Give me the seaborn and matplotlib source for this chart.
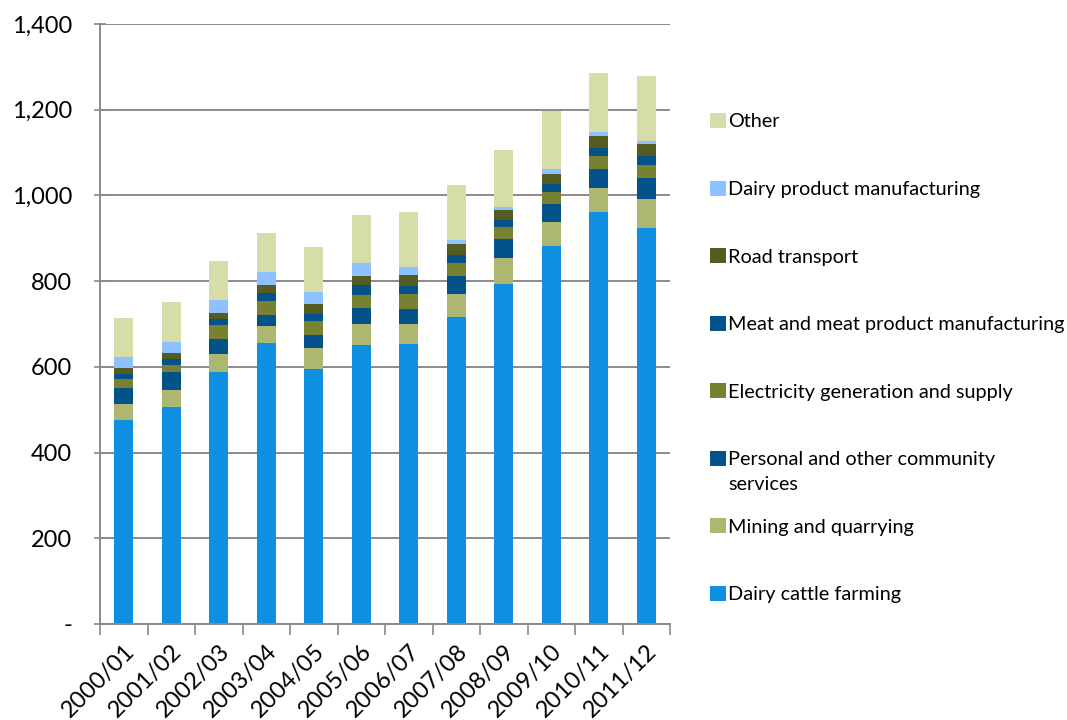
import matplotlib
matplotlib.use("Agg")
import matplotlib.pyplot as plt
import numpy as np
import pandas as pd
import seaborn as sns
from matplotlib.patches import Patch

# ---- data ----
years = ["2000/01", "2001/02", "2002/03", "2003/04", "2004/05", "2005/06",
         "2006/07", "2007/08", "2008/09", "2009/10", "2010/11", "2011/12"]
dairy_cattle = [476, 507, 588, 656, 595, 650, 653, 716, 793, 883, 961, 925]
mining = [37, 40, 41, 39, 49, 51, 48, 53, 61, 56, 57, 66]
personal = [38, 40, 37, 26, 31, 36, 35, 44, 44, 40, 44, 49]
electricity = [20, 18, 31, 33, 31, 31, 33, 30, 29, 29, 30, 30]
meat = [12, 14, 14, 19, 18, 22, 19, 19, 16, 19, 19, 21]
road = [14, 14, 15, 19, 22, 23, 27, 24, 22, 24, 27, 28]
dairy_product = [27, 26, 30, 29, 29, 30, 18, 9, 9, 11, 11, 9]
other = [91, 92, 91, 91, 105, 112, 129, 130, 133, 135, 137, 150]

series_names = ["Dairy cattle farming", "Mining and quarrying",
                "Personal and other community services",
                "Electricity generation and supply",
                "Meat and meat product manufacturing", "Road transport",
                "Dairy product manufacturing", "Other"]
series_values = [dairy_cattle, mining, personal, electricity, meat, road,
                 dairy_product, other]
colors = ["#0F8FDF", "#ADB771", "#03528A", "#778230", "#03528A", "#555C21",
          "#8DC1FF", "#D6DDA9"]
ytick_values = [0, 200, 400, 600, 800, 1000, 1200, 1400]
ytick_labels = ["-", "200", "400", "600", "800", "1,000", "1,200", "1,400"]

# ---- figure ----
sns.set_theme(style="white")
plt.rcParams["font.family"] = ["Lato", "DejaVu Sans"]

W, H = 1067, 720
fig = plt.figure(figsize=(W / 100, H / 100), dpi=100)
ax = fig.add_axes([100 / W, 96 / H, 570 / W, 600 / H])

df = pd.DataFrame({"year": years})
cum = np.zeros(len(years))
cums = []
for vals in series_values:
    cum = cum + np.array(vals, dtype=float)
    cums.append(cum.copy())

# draw from the tallest cumulative layer down so lower layers overlay
for c, col in reversed(list(zip(cums, colors))):
    d = df.copy()
    d["value"] = c
    sns.barplot(data=d, x="year", y="value", color=col, saturation=1,
                width=0.4, linewidth=0, ax=ax, order=years)

ax.set_ylim(0, 1400)
ax.set_xlim(-0.5, len(years) - 0.5)
ax.set_yticks(ytick_values)
ax.set_yticklabels(ytick_labels)
ax.set_xlabel("")
ax.set_ylabel("")

grid_col = "#8A8A8A"
ax.yaxis.grid(True, color=grid_col, linewidth=1.4)
ax.set_axisbelow(True)
for s in ["top", "right"]:
    ax.spines[s].set_visible(False)
for s in ["left", "bottom"]:
    ax.spines[s].set_visible(True)
    ax.spines[s].set_color(grid_col)
    ax.spines[s].set_linewidth(1.4)

ax.tick_params(axis="y", which="major", direction="inout", length=8,
               width=1.2, color=grid_col, left=True, pad=16,
               labelsize=17, labelcolor="#000000")
# category boundaries as minor ticks (Excel style)
ax.set_xticks(np.arange(-0.5, len(years)), minor=True)
ax.tick_params(axis="x", which="minor", direction="out", length=8,
               width=1.2, color=grid_col, bottom=True)
ax.tick_params(axis="x", which="major", length=0, pad=12, labelsize=17,
               labelcolor="#000000")
for lab in ax.get_xticklabels():
    lab.set_rotation(45)
    lab.set_ha("right")
    lab.set_rotation_mode("anchor")

# legend (reverse order, Excel style); long label wraps onto a second line
leg_fs = 14.3
legend_labels = [n.replace(" services", "") for n in series_names]
handles = [Patch(facecolor=col, edgecolor="none") for col in colors]
leg = fig.legend(handles[::-1], legend_labels[::-1], loc="upper left",
                 bbox_to_anchor=(710 / W, 1 - 113 / H), frameon=False,
                 fontsize=leg_fs, labelspacing=2.52, handlelength=0.8,
                 handleheight=0.8, handletextpad=0.12, borderpad=0,
                 borderaxespad=0)
for t in leg.get_texts():
    t.set_color("#000000")

fig.canvas.draw()
idx = legend_labels[::-1].index("Personal and other community")
bb = leg.get_texts()[idx].get_window_extent()
fig.text(bb.x0 / W, (bb.y0 - 25) / H, "services", fontsize=leg_fs,
         color="#000000", ha="left", va="bottom")

fig.savefig("out.png", dpi=100, facecolor="white")
